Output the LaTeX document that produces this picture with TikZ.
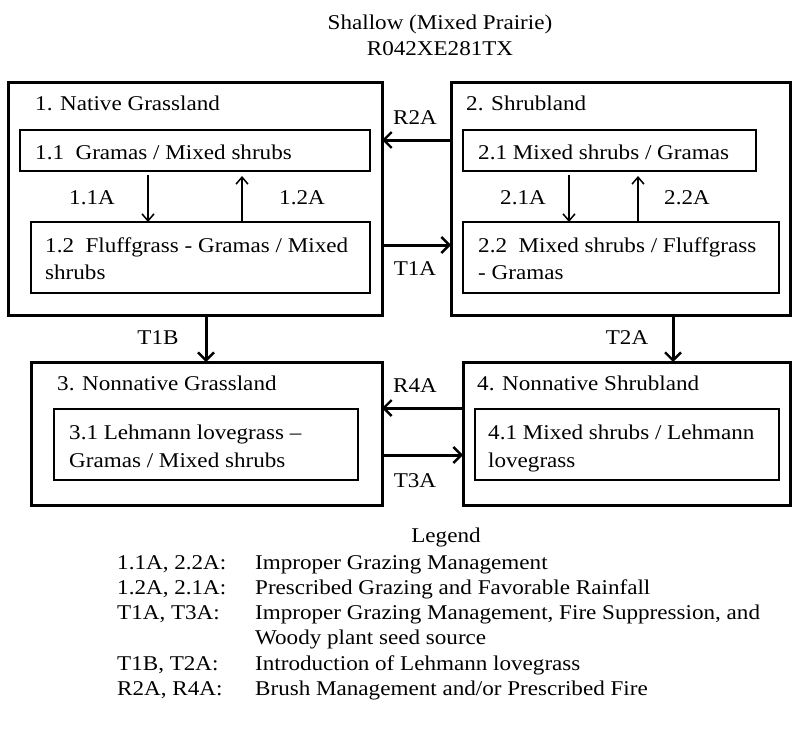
\documentclass[tikz,border=0pt]{standalone}
\usepackage{fontspec}
\setmainfont{Liberation Serif}[FakeStretch=1.1]
\usetikzlibrary{arrows.meta}
\begin{document}
\begin{tikzpicture}[x=1pt,y=-1pt,
  outerbox/.style={draw, line width=3pt, anchor=north west, inner sep=0pt, outer sep=0pt},
  innerbox/.style={draw, line width=1.5pt, anchor=north west, inner sep=0pt, outer sep=0pt},
  txt/.style={anchor=base west, inner sep=0pt, font=\fontsize{21}{25}\selectfont},
  ctxt/.style={anchor=base, inner sep=0pt, font=\fontsize{21}{25}\selectfont},
  thinarr/.style={line width=1.5pt, -{Straight Barb[length=7pt,width=12pt,line width=1.5pt]}},
  thickarr/.style={line width=3pt, -{Straight Barb[length=8pt,width=16pt,line width=2.4pt]}}
]
\useasboundingbox (0,0) rectangle (800,728);
\fill[white] (0,0) rectangle (800,728);

% title
\node[ctxt] (title1) at (440,29) {Shallow (Mixed Prairie)};
\node[ctxt] (title2) at (440,55) {R042XE281TX};

% boxes
\node[outerbox, minimum width=374pt, minimum height=233pt] (b1) at (8,82) {};
\node[innerbox, minimum width=350pt, minimum height=41pt] (b11) at (20,130) {};
\node[innerbox, minimum width=339pt, minimum height=71pt] (b12) at (31,222) {};
\node[outerbox, minimum width=339pt, minimum height=233pt] (b2) at (451,82) {};
\node[innerbox, minimum width=293pt, minimum height=41pt] (b21) at (463,130) {};
\node[innerbox, minimum width=316pt, minimum height=71pt] (b22) at (463,222) {};
\node[outerbox, minimum width=351pt, minimum height=143pt] (b3) at (31,362) {};
\node[innerbox, minimum width=304pt, minimum height=71pt] (b31) at (54,409) {};
\node[outerbox, minimum width=327pt, minimum height=143pt] (b4) at (463,362) {};
\node[innerbox, minimum width=304pt, minimum height=71pt] (b41) at (475,409) {};

% box texts
\node[txt] (t1) at (35,110) {1. Native Grassland};
\node[txt] (t11) at (35,159) {1.1\ \ Gramas / Mixed shrubs};
\node[txt] (t12a) at (45,252) {1.2\ \ Fluffgrass - Gramas / Mixed};
\node[txt] (t12b) at (45,279) {shrubs};
\node[txt] (t2) at (466,110) {2. Shrubland};
\node[txt] (t21) at (478,159) {2.1 Mixed shrubs / Gramas};
\node[txt] (t22a) at (478,252) {2.2\ \ Mixed shrubs / Fluffgrass};
\node[txt] (t22b) at (478,279) {- Gramas};
\node[txt] (t3) at (57,390) {3. Nonnative Grassland};
\node[txt] (t31a) at (69,439) {3.1 Lehmann lovegrass –};
\node[txt] (t31b) at (69,467) {Gramas / Mixed shrubs};
\node[txt] (t4) at (477,390) {4. Nonnative Shrubland};
\node[txt] (t41a) at (488,439) {4.1 Mixed shrubs / Lehmann};
\node[txt] (t41b) at (488,467) {lovegrass};

% coordinates for arrow positions
\coordinate (x11) at (148,0);
\coordinate (x12) at (242,0);
\coordinate (x21) at (569,0);
\coordinate (x22) at (638,0);
\coordinate (xT1B) at (206,0);
\coordinate (xT2A) at (673,0);
\coordinate (yR2A) at (0,140);
\coordinate (yT1A) at (0,245);
\coordinate (yR4A) at (0,408);
\coordinate (yT3A) at (0,455);

% inner arrows
\draw[thinarr, shorten <=4pt] (b11.south -| x11) -- (b12.north -| x11);
\draw[thinarr, shorten >=5pt] (b12.north -| x12) -- (b11.south -| x12);
\draw[thinarr, shorten <=4pt] (b21.south -| x21) -- (b22.north -| x21);
\draw[thinarr, shorten >=5pt] (b22.north -| x22) -- (b21.south -| x22);

% outer arrows
\draw[thickarr] (b2.west |- yR2A) -- (b1.east |- yR2A);
\draw[thickarr] (b1.east |- yT1A) -- (b2.west |- yT1A);
\draw[thickarr] (b1.south -| xT1B) -- (b3.north -| xT1B);
\draw[thickarr] (b2.south -| xT2A) -- (b4.north -| xT2A);
\draw[thickarr] (b4.west |- yR4A) -- (b3.east |- yR4A);
\draw[thickarr] (b3.east |- yT3A) -- (b4.west |- yT3A);

% arrow labels
\node[ctxt] (l11) at (92,204) {1.1A};
\node[ctxt] (l12) at (302,204) {1.2A};
\node[ctxt] (l21) at (523,204) {2.1A};
\node[ctxt] (l22) at (687,204) {2.2A};
\node[ctxt] (lR2A) at (415,124) {R2A};
\node[ctxt] (lT1A) at (415,275) {T1A};
\node[ctxt] (lT1B) at (158,344) {T1B};
\node[ctxt] (lT2A) at (627,344) {T2A};
\node[ctxt] (lR4A) at (415,392) {R4A};
\node[ctxt] (lT3A) at (415,487) {T3A};

% legend
\node[ctxt] (leg) at (446,542) {Legend};
\node[txt] (k1) at (117,569) {1.1A, 2.2A:};
\node[txt] (d1) at (255,569) {Improper Grazing Management};
\node[txt] (k2) at (117,594) {1.2A, 2.1A:};
\node[txt] (d2) at (255,594) {Prescribed Grazing and Favorable Rainfall};
\node[txt] (k3) at (117,619) {T1A, T3A:};
\node[txt] (d3a) at (255,619) {Improper Grazing Management, Fire Suppression, and};
\node[txt] (d3b) at (255,644) {Woody plant seed source};
\node[txt] (k4) at (117,670) {T1B, T2A:};
\node[txt] (d4) at (255,670) {Introduction of Lehmann lovegrass};
\node[txt] (k5) at (117,695) {R2A, R4A:};
\node[txt] (d5) at (255,695) {Brush Management and/or Prescribed Fire};
\end{tikzpicture}
\end{document}
